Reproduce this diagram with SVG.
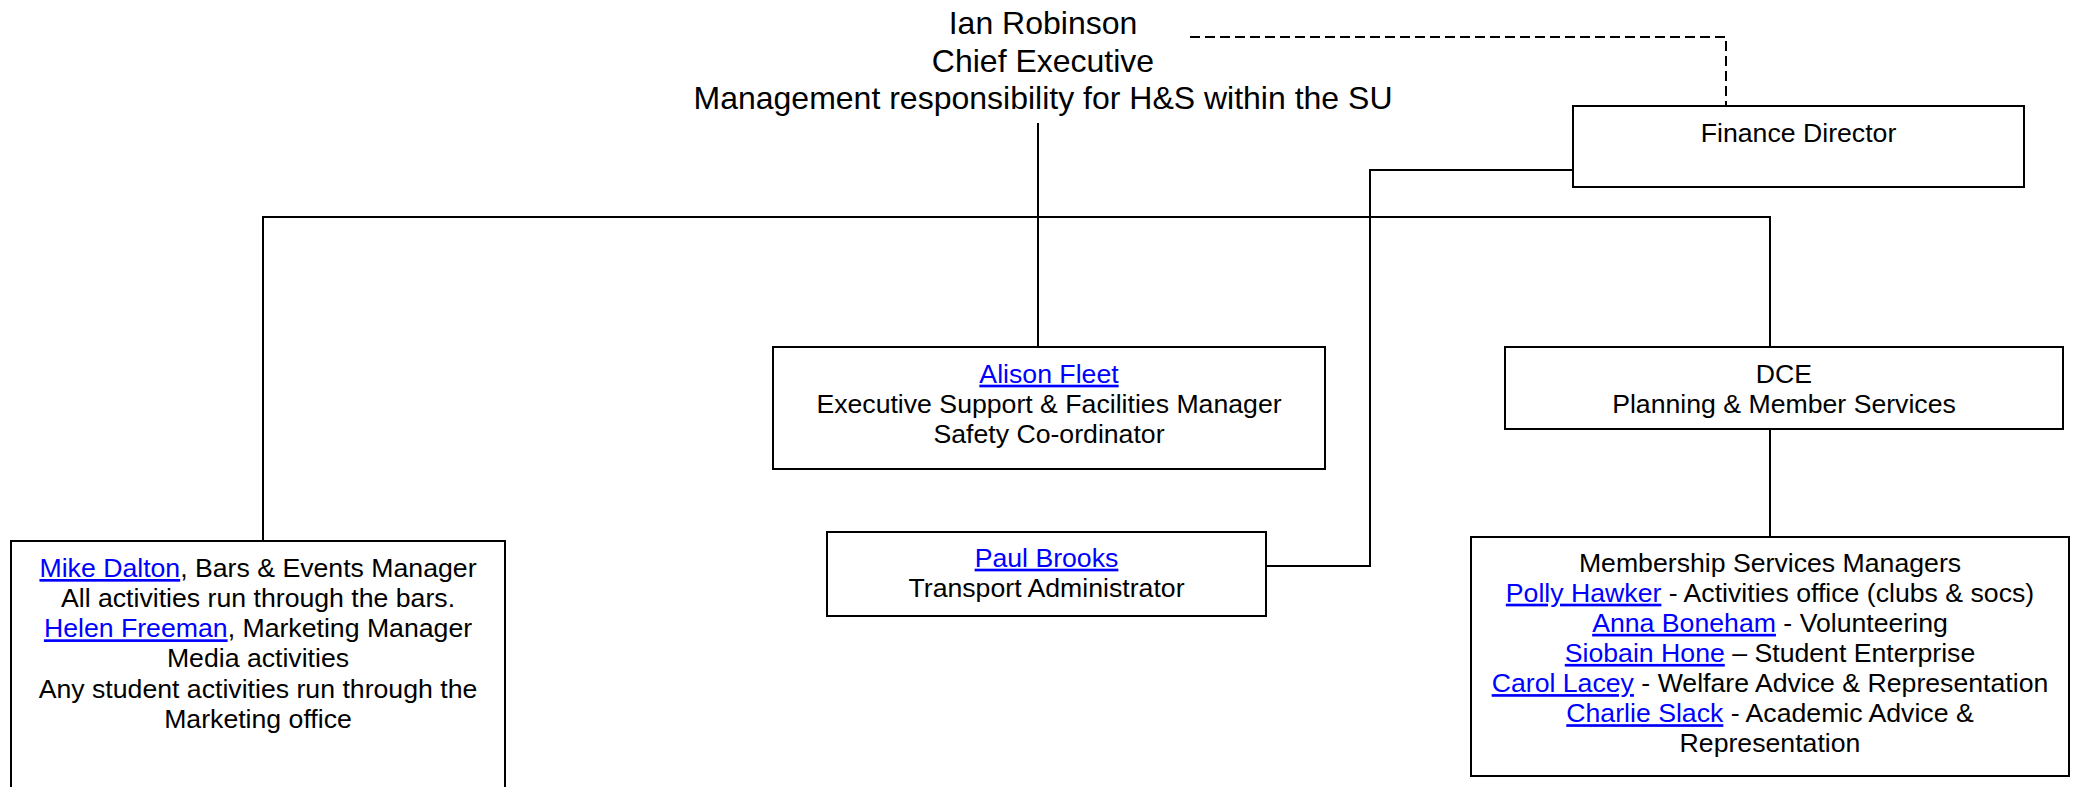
<svg xmlns="http://www.w3.org/2000/svg" width="2076" height="787" viewBox="0 0 2076 787">
<style>
.box{fill:#fff;stroke:#000;stroke-width:2}
.ln{fill:none;stroke:#000;stroke-width:2}
.dash{fill:none;stroke:#000;stroke-width:2;stroke-dasharray:10 5}
text{font-family:"Liberation Sans",Arial,sans-serif;font-size:26.67px;fill:#000;text-anchor:middle}
.big{font-size:32px}
.lk{fill:#0000ff;text-decoration:underline}
</style>
<rect width="2076" height="787" fill="#fff"/>
<g id="connectors">
<path class="ln" d="M1038,123 V347"/>
<path class="ln" d="M263,541 V217 H1770 V347"/>
<path class="ln" d="M1770,429 V537"/>
<path class="ln" d="M1266,566 H1370 V170 H1573"/>
<path class="dash" d="M1190,37 H1726 V106"/>
</g>
<g id="ceo">
<text class="big" x="1043" y="34">Ian Robinson</text>
<text class="big" x="1043" y="71.5">Chief Executive</text>
<text class="big" x="1043" y="109">Management responsibility for H&amp;S within the SU</text>
</g>
<g id="finance">
<rect class="box" x="1573" y="106" width="451" height="81"/>
<text x="1798.5" y="141.5">Finance Director</text>
</g>
<g id="alison">
<rect class="box" x="773" y="347" width="552" height="122"/>
<text x="1049" y="382.7"><tspan class="lk">Alison Fleet</tspan></text>
<text x="1049" y="412.7">Executive Support &amp; Facilities Manager</text>
<text x="1049" y="442.7">Safety Co-ordinator</text>
</g>
<g id="dce">
<rect class="box" x="1505" y="347" width="558" height="82"/>
<text x="1784" y="383">DCE</text>
<text x="1784" y="413">Planning &amp; Member Services</text>
</g>
<g id="paul">
<rect class="box" x="827" y="532" width="439" height="84"/>
<text x="1046.5" y="566.7"><tspan class="lk">Paul Brooks</tspan></text>
<text x="1046.5" y="597.3">Transport Administrator</text>
</g>
<g id="mike">
<rect class="box" x="11" y="541" width="494" height="270"/>
<text x="258" y="577"><tspan class="lk">Mike Dalton</tspan>, Bars &amp; Events Manager</text>
<text x="258" y="607">All activities run through the bars.</text>
<text x="258" y="637.3"><tspan class="lk">Helen Freeman</tspan>, Marketing Manager</text>
<text x="258" y="667.3">Media activities</text>
<text x="258" y="697.6">Any student activities run through the</text>
<text x="258" y="727.8">Marketing office</text>
</g>
<g id="membership">
<rect class="box" x="1471" y="537" width="598" height="239"/>
<text x="1770" y="571.7">Membership Services Managers</text>
<text x="1770" y="601.7"><tspan class="lk">Polly Hawker</tspan> - Activities office (clubs &amp; socs)</text>
<text x="1770" y="631.8"><tspan class="lk">Anna Boneham</tspan> - Volunteering</text>
<text x="1770" y="661.9"><tspan class="lk">Siobain Hone</tspan> – Student Enterprise</text>
<text x="1770" y="692.1"><tspan class="lk">Carol Lacey</tspan> - Welfare Advice &amp; Representation</text>
<text x="1770" y="722.2"><tspan class="lk">Charlie Slack</tspan> - Academic Advice &amp;</text>
<text x="1770" y="752.3">Representation</text>
</g>
</svg>
